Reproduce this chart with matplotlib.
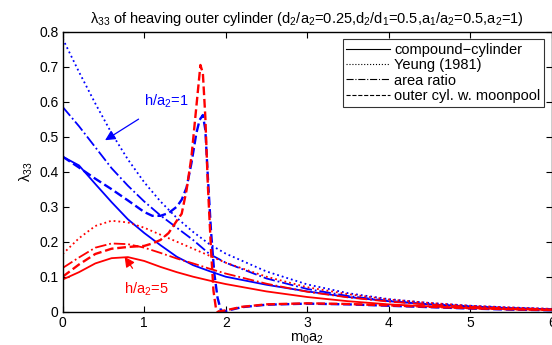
import matplotlib
matplotlib.use("Agg")
import matplotlib.pyplot as plt
from matplotlib.lines import Line2D

plt.rcParams['font.family'] = ['Liberation Sans', 'DejaVu Sans']
plt.rcParams['mathtext.fontset'] = 'custom'
plt.rcParams['mathtext.rm'] = 'Liberation Sans'
plt.rcParams['mathtext.it'] = 'Liberation Sans'
plt.rcParams['mathtext.default'] = 'regular'

# common grid for smooth curves
x_main = [0, 0.2, 0.4, 0.6, 0.8, 1.0, 1.2, 1.4, 1.6, 1.8, 2.0, 2.5, 3.0, 3.5, 4.0, 4.5, 5.0, 5.5, 6.0]

# h/a2 = 1 (blue)
blue_compound = [0.443, 0.418, 0.365, 0.313, 0.264, 0.225, 0.19, 0.157, 0.133, 0.116, 0.100, 0.077, 0.058, 0.042, 0.030, 0.021, 0.015, 0.010, 0.007]
blue_yeung = [0.78, 0.685, 0.595, 0.51, 0.435, 0.37, 0.315, 0.268, 0.228, 0.193, 0.166, 0.115, 0.078, 0.053, 0.036, 0.025, 0.017, 0.012, 0.008]
blue_area = [0.585, 0.53, 0.47, 0.41, 0.36, 0.315, 0.275, 0.24, 0.205, 0.165, 0.14, 0.095, 0.065, 0.045, 0.031, 0.021, 0.015, 0.010, 0.007]
x_blue_moon = [0, 0.2, 0.4, 0.6, 0.8, 1.0, 1.1, 1.2, 1.3, 1.4, 1.46, 1.52, 1.58, 1.64, 1.68, 1.72, 1.75, 1.78, 1.82, 1.86, 1.9, 1.94, 1.97, 2.0, 2.2, 2.5, 3.0, 3.5, 4.0, 4.5, 5.0, 5.5, 6.0]
blue_moon = [0.443, 0.412, 0.38, 0.35, 0.318, 0.285, 0.274, 0.274, 0.282, 0.30, 0.32, 0.355, 0.425, 0.51, 0.548, 0.562, 0.52, 0.39, 0.23, 0.11, 0.04, 0.005, 0.0, 0.002, 0.013, 0.02, 0.023, 0.021, 0.017, 0.013, 0.009, 0.006, 0.004]

# h/a2 = 5 (red)
red_compound = [0.092, 0.113, 0.138, 0.153, 0.156, 0.145, 0.128, 0.113, 0.100, 0.089, 0.079, 0.058, 0.042, 0.030, 0.021, 0.015, 0.010, 0.007, 0.005]
red_yeung = [0.165, 0.21, 0.245, 0.26, 0.255, 0.24, 0.22, 0.20, 0.18, 0.16, 0.14, 0.10, 0.07, 0.05, 0.035, 0.025, 0.017, 0.012, 0.008]
red_area = [0.125, 0.155, 0.183, 0.195, 0.193, 0.183, 0.168, 0.152, 0.138, 0.123, 0.109, 0.08, 0.057, 0.041, 0.029, 0.020, 0.014, 0.009, 0.006]
x_red_moon = [0, 0.2, 0.4, 0.6, 0.8, 1.0, 1.1, 1.2, 1.3, 1.4, 1.46, 1.52, 1.58, 1.64, 1.69, 1.72, 1.75, 1.78, 1.82, 1.85, 1.88, 1.9, 2.0, 2.2, 2.5, 3.0, 3.5, 4.0, 4.5, 5.0, 5.5, 6.0]
red_moon = [0.10, 0.135, 0.165, 0.18, 0.185, 0.188, 0.195, 0.205, 0.225, 0.26, 0.28, 0.348, 0.443, 0.586, 0.705, 0.681, 0.557, 0.367, 0.176, 0.06, 0.01, 0.0, 0.004, 0.014, 0.021, 0.024, 0.022, 0.018, 0.014, 0.010, 0.007, 0.005]

legend_labels = ['compound\u2212cylinder', 'Yeung (1981)', 'area ratio', 'outer cyl. w. moonpool']

fig = plt.figure(figsize=(5.52, 3.45), dpi=100)
ax = fig.add_axes([0.1136, 0.0965, 0.8858, 0.8115])

B = (0, 0, 1)
R = (1, 0, 0)
lw = 1.3
ax.plot(x_main, blue_compound, '-', color=B, lw=lw)
ax.plot(x_main, blue_yeung, ':', color=B, lw=lw)
ax.plot(x_main, blue_area, '-.', color=B, lw=lw)
ax.plot(x_blue_moon, blue_moon, '--', color=B, lw=1.7)
ax.plot(x_main, red_compound, '-', color=R, lw=lw)
ax.plot(x_main, red_yeung, ':', color=R, lw=lw)
ax.plot(x_main, red_area, '-.', color=R, lw=lw)
ax.plot(x_red_moon, red_moon, '--', color=R, lw=1.7)

ax.set_xlim(0, 6)
ax.set_ylim(0, 0.8)
ax.set_xticks([0, 1, 2, 3, 4, 5, 6])
ax.set_yticks([0, 0.1, 0.2, 0.3, 0.4, 0.5, 0.6, 0.7, 0.8])
ax.set_yticklabels(['0', '0.1', '0.2', '0.3', '0.4', '0.5', '0.6', '0.7', '0.8'])
ax.tick_params(direction='in', top=True, right=True, labelsize=10, length=4, width=0.8, pad=3)
for s in ax.spines.values():
    s.set_linewidth(1.0)

ax.set_xlabel('m$_0$a$_2$', fontsize=10.5, labelpad=1)
ax.set_ylabel('$\\lambda_{33}$', fontsize=10.5, labelpad=3)
ax.set_title('$\\lambda_{33}$ of heaving outer cylinder (d$_2$/a$_2$=0.25,d$_2$/d$_1$=0.5,a$_1$/a$_2$=0.5,a$_2$=1)',
             fontsize=10.5, pad=6)

handles = [Line2D([], [], color='k', ls='-', lw=0.8),
           Line2D([], [], color='k', ls=':', lw=0.8),
           Line2D([], [], color='k', ls='-.', lw=0.8),
           Line2D([], [], color='k', ls='--', lw=0.8)]
leg = ax.legend(handles, legend_labels, loc='upper right', fontsize=10.5, frameon=True,
                fancybox=False, edgecolor='k', handlelength=3.0, labelspacing=0.1,
                borderpad=0.25, handletextpad=0.3, borderaxespad=0.5)
leg.get_frame().set_linewidth(0.8)

ax.annotate('h/a$_2$=1', xy=(0.52, 0.49), xytext=(1.27, 0.60), color=B, fontsize=10.5,
            ha='center', va='center',
            arrowprops=dict(arrowstyle='-|>', color=B, lw=0.9, mutation_scale=15,
                            shrinkA=8, shrinkB=0))
ax.annotate('h/a$_2$=5', xy=(0.76, 0.157), xytext=(1.03, 0.065), color=R, fontsize=10.5,
            ha='center', va='center',
            arrowprops=dict(arrowstyle='-|>', color=R, lw=0.9, mutation_scale=15,
                            shrinkA=8, shrinkB=0))

fig.savefig('out.png', dpi=100)
